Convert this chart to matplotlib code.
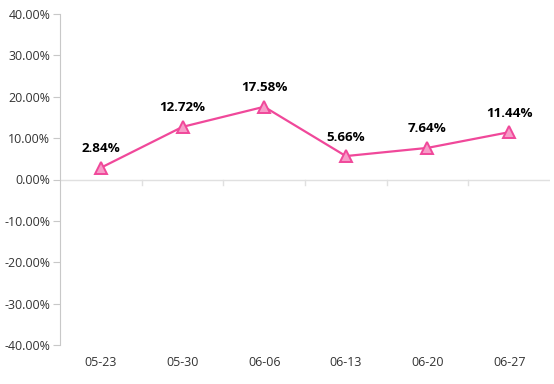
import numpy as np
import matplotlib
matplotlib.use('Agg')
from matplotlib import pyplot as plt

plt.rcParams['font.family'] = ['Open Sans', 'DejaVu Sans']

# data
dates = ['05-23', '05-30', '06-06', '06-13', '06-20', '06-27']
returns = [2.84, 12.72, 17.58, 5.66, 7.64, 11.44]
yticks = [-40, -30, -20, -10, 0, 10, 20, 30, 40]

line_color = '#f0489a'
fill_color = '#f79cc8'

fig = plt.figure(figsize=(5.54, 3.84), dpi=100)
ax = fig.add_axes([60/554, 1-345/384, 490/554, 331/384])

x = np.arange(len(dates))
ax.plot(x, returns, color=line_color, lw=1.6, marker='^', ms=8,
        markerfacecolor=fill_color, markeredgecolor=line_color, mew=1.4, zorder=3)

for xi, v in zip(x, returns):
    ax.annotate(f'{v:.2f}%', (xi, v), xytext=(0, 9), textcoords='offset points',
                ha='center', va='bottom', fontsize=9.6, fontweight='bold', color='black')

ax.set_xlim(-0.5, len(dates) - 0.5)
ax.set_ylim(-40, 40)
ax.set_yticks(yticks)
ax.set_yticklabels([f'{t:.2f}%' for t in yticks])
ax.set_xticks(x)
ax.set_xticklabels(dates)

# zero baseline with boundary ticks
ax.axhline(0, color='#e0e0e0', lw=1, zorder=1)
for b in np.arange(0.5, len(dates) - 0.5, 1):
    ax.plot([b, b], [0, -1.3], color='#e0e0e0', lw=1, zorder=1)

for s in ['top', 'right', 'bottom']:
    ax.spines[s].set_visible(False)
ax.spines['left'].set_color('#c8c8c8')
ax.tick_params(axis='y', length=5, color='#c8c8c8', labelsize=8.9, labelcolor='#333333', pad=2)
ax.tick_params(axis='x', length=0, labelsize=8.9, labelcolor='#333333', pad=8)

fig.savefig('out.png', dpi=100)
